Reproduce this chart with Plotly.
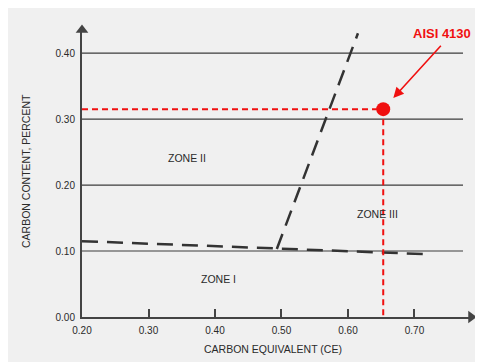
import plotly.graph_objects as go

# ---- data ----
x_ticks = [0.20, 0.30, 0.40, 0.50, 0.60, 0.70]
y_ticks = [0.00, 0.10, 0.20, 0.30, 0.40]
grid_levels = [0.10, 0.20, 0.30, 0.40]
grid_x = [0.20, 0.773]

steep_ce = [0.493, 0.615]
steep_c = [0.103, 0.430]
flat_ce = [0.20, 0.723]
flat_c = [0.115, 0.095]

point_name = "AISI 4130"
point_ce = 0.653
point_c = 0.315

zone_names = ["ZONE I", "ZONE II", "ZONE III"]
zone_ce = [0.405, 0.358, 0.645]
zone_c = [0.058, 0.241, 0.156]

X_RANGE = [0.20, 0.785]
Y_RANGE = [0.0, 0.435]

FONT = "Liberation Sans, Arial, sans-serif"
RED = "#f01010"
INK = "#2a2a2a"

# page body has an 8px margin: figure is drawn offset by (8, 8)
OFF = 8
PL, PR, PT, PB = 82, 471, 30, 317   # plot area in window pixels


def px(xpix):
    return (xpix - PL) / (PR - PL)


def py(ypix):
    return (PB - ypix) / (PB - PT)


fig = go.Figure()

for lv in grid_levels:
    fig.add_trace(go.Scatter(x=grid_x, y=[lv, lv], mode="lines",
                             line=dict(color="#3c3c3c", width=1.2), hoverinfo="skip"))

fig.add_trace(go.Scatter(x=steep_ce, y=steep_c, mode="lines",
                         line=dict(color="#333333", width=2.5, dash="16px,9px")))
fig.add_trace(go.Scatter(x=flat_ce, y=flat_c, mode="lines",
                         line=dict(color="#333333", width=2.5, dash="16px,9px")))

fig.add_trace(go.Scatter(x=[X_RANGE[0], point_ce], y=[point_c, point_c], mode="lines",
                         line=dict(color=RED, width=2, dash="6px,4px")))
fig.add_trace(go.Scatter(x=[point_ce, point_ce], y=[point_c, Y_RANGE[0]], mode="lines",
                         line=dict(color=RED, width=2, dash="6px,4px")))
fig.add_trace(go.Scatter(x=[point_ce], y=[point_c], mode="markers",
                         marker=dict(color=RED, size=14)))

fig.add_trace(go.Scatter(x=[X_RANGE[1]], y=[Y_RANGE[0]], mode="markers", cliponaxis=False,
                         marker=dict(symbol="triangle-right", color="#444444", size=11)))
fig.add_trace(go.Scatter(x=[X_RANGE[0]], y=[Y_RANGE[1]], mode="markers", cliponaxis=False,
                         marker=dict(symbol="triangle-up", color="#444444", size=11)))

annotations = []
for name, cx, cy in zip(zone_names, zone_ce, zone_c):
    annotations.append(dict(x=cx, y=cy, text=name, showarrow=False,
                            xanchor="center", yanchor="middle",
                            font=dict(family=FONT, size=10.5, color=INK)))

annotations.append(dict(x=point_ce, y=point_c, xref="x", yref="y",
                        ax=59, ay=-65, axref="pixel", ayref="pixel",
                        text="", showarrow=True, arrowhead=2, arrowsize=1.3,
                        arrowwidth=1.6, arrowcolor=RED, standoff=15))
annotations.append(dict(x=px(442), y=py(33), xref="paper", yref="paper",
                        xanchor="center", yanchor="middle",
                        text="<b>" + point_name + "</b>", showarrow=False,
                        font=dict(family=FONT, size=13, color=RED)))

annotations.append(dict(x=px(273), y=py(349), xref="paper", yref="paper",
                        xanchor="center", yanchor="middle",
                        text="CARBON EQUIVALENT (CE)", showarrow=False,
                        font=dict(family=FONT, size=10.5, color=INK)))
annotations.append(dict(x=px(26), y=py(171), xref="paper", yref="paper",
                        xanchor="center", yanchor="middle",
                        text="CARBON CONTENT, PERCENT", showarrow=False, textangle=-90,
                        font=dict(family=FONT, size=10.5, color=INK)))

W, H = 483 - OFF, 362 - OFF
fig.update_layout(
    width=W, height=H,
    margin=dict(l=PL - OFF, r=W - (PR - OFF), t=PT - OFF, b=H - (PB - OFF), pad=0),
    paper_bgcolor="#f0f0f0", plot_bgcolor="rgba(0,0,0,0)",
    showlegend=False,
    annotations=annotations,
    xaxis=dict(range=X_RANGE, tickvals=x_ticks, ticktext=[f"{v:.2f}" for v in x_ticks],
               showgrid=False, zeroline=False, showline=True, linecolor="#444444", linewidth=2,
               ticks="inside", ticklen=8, tickwidth=1.5, tickcolor="#444444", automargin=False,
               ticklabelstandoff=3,
               tickfont=dict(family=FONT, size=10, color=INK)),
    yaxis=dict(range=Y_RANGE, tickvals=y_ticks, ticktext=[f"{v:.2f}" for v in y_ticks],
               showgrid=False, zeroline=False, showline=True, linecolor="#444444", linewidth=2,
               ticks="", automargin=False, ticklabelstandoff=3,
               tickfont=dict(family=FONT, size=10, color=INK)),
)

fig.write_html("out.html")
